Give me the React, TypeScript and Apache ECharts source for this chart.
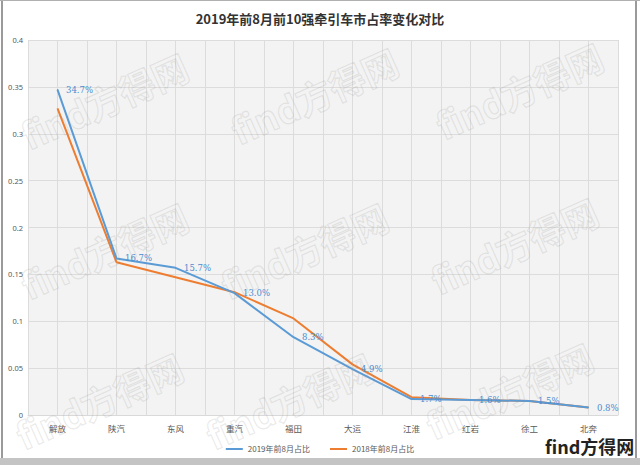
import React, { useEffect, useRef } from "react";
import * as echarts from "echarts";

const categories = ["解放", "陕汽", "东风", "重汽", "福田", "大运", "江淮", "红岩", "徐工", "北奔"];
const share2019 = [0.347, 0.167, 0.157, 0.13, 0.083, 0.049, 0.017, 0.016, 0.015, 0.008];
const share2018 = [0.327, 0.163, 0.147, 0.131, 0.103, 0.054, 0.019, 0.016, 0.015, 0.008];
const seriesNames = ["2019年前8月占比", "2018年前8月占比"];
const titleText = "2019年前8月前10强牵引车市占率变化对比";

const watermarkPos = [
  [15, 120], [225, 115], [430, 110],
  [15, 270], [215, 270], [425, 265],
  [10, 420], [200, 420], [420, 410],
];

export default function App() {
  const ref = useRef<HTMLDivElement>(null);
  useEffect(() => {
    if (!ref.current) return;
    const chart = echarts.init(ref.current, undefined, { renderer: "svg" });
    const watermarks = watermarkPos.map(([x, y]) => ({
      type: "text",
      x,
      y,
      rotation: 0.42,
      silent: true,
      z: 100,
      style: {
        text: "find方得网",
        font: "bold 36px 'Noto Sans CJK SC', sans-serif",
        fill: "rgba(0,0,0,0)",
        stroke: "rgba(150,150,150,0.2)",
        lineWidth: 1.2,
      },
    }));
    chart.setOption({
      animation: false,
      backgroundColor: "#ffffff",
      title: {
        text: titleText,
        left: "center",
        top: 7,
        textStyle: {
          fontSize: 13,
          fontWeight: "bold",
          color: "#333",
          fontFamily: "'Noto Sans CJK SC', sans-serif",
        },
      },
      legend: {
        top: 440,
        left: "center",
        itemWidth: 17,
        itemHeight: 2,
        itemGap: 20,
        icon: "rect",
        textStyle: { fontSize: 8, color: "#595959", fontFamily: "'Noto Sans CJK SC', sans-serif" },
        data: seriesNames,
      },
      grid: {
        left: 28,
        right: 22,
        top: 40,
        bottom: 50,
        show: true,
        backgroundColor: "#f3f3f3",
        borderWidth: 0,
      },
      xAxis: [
        {
          type: "category",
          data: categories,
          boundaryGap: true,
          axisLine: { show: true, lineStyle: { color: "#d9d9d9" } },
          axisTick: { show: false },
          splitLine: { show: false },
          axisLabel: {
            fontSize: 8.5,
            color: "#595959",
            margin: 9,
            fontFamily: "'Noto Sans CJK SC', sans-serif",
          },
        },
        {
          type: "value",
          min: 0,
          max: 20,
          interval: 1,
          position: "bottom",
          axisLine: { show: false },
          axisTick: { show: false },
          axisLabel: { show: false },
          splitLine: { show: true, lineStyle: { color: "#dcdcdc", width: 1 } },
        },
      ],
      yAxis: {
        type: "value",
        min: 0,
        max: 0.4,
        interval: 0.05,
        axisLine: { show: false },
        axisTick: { show: false },
        axisLabel: {
          fontSize: 7.5,
          color: "#595959",
          margin: 5,
          fontFamily: "'Noto Sans', sans-serif",
        },
        splitLine: { show: true, lineStyle: { color: "#dcdcdc", width: 1 } },
      },
      series: [
        {
          name: seriesNames[0],
          type: "line",
          data: share2019,
          showSymbol: true,
          symbol: "circle",
          symbolSize: 1,
          z: 3,
          lineStyle: { color: "#5b9bd5", width: 2 },
          itemStyle: { color: "#5b9bd5" },
          label: {
            show: true,
            position: "right",
            distance: 8,
            fontSize: 8.5,
            color: "#4a8bd0",
            fontFamily: "'DejaVu Serif', serif",
            formatter: (p: any) => (p.value * 100).toFixed(1) + "%",
          },
        },
        {
          name: seriesNames[1],
          type: "line",
          data: share2018,
          showSymbol: false,
          symbol: "none",
          z: 2,
          lineStyle: { color: "#ed7d31", width: 2 },
          itemStyle: { color: "#ed7d31" },
        },
      ],
      graphic: [
        ...watermarks,
        { type: "line", shape: { x1: 2, y1: 0, x2: 2, y2: 459 }, style: { stroke: "#9a9a9a", lineWidth: 2 } },
        { type: "line", shape: { x1: 636, y1: 0, x2: 636, y2: 459 }, style: { stroke: "#9a9a9a", lineWidth: 2 } },
        { type: "line", shape: { x1: 0, y1: 0.5, x2: 640, y2: 0.5 }, style: { stroke: "#b0b0b0", lineWidth: 1 } },
        { type: "rect", shape: { x: 0, y: 458, width: 640, height: 7 }, style: { fill: "#c4c4c4" } },
        {
          type: "text",
          x: 545,
          y: 437,
          z: 120,
          style: {
            text: "find方得网",
            font: "bold 18px 'Noto Sans CJK SC', sans-serif",
            fill: "#222",
          },
        },
      ],
    });
    return () => chart.dispose();
  }, []);
  return (
    <div
      ref={ref}
      style={{ position: "fixed", left: 0, top: 0, width: 640, height: 465 }}
    />
  );
}
